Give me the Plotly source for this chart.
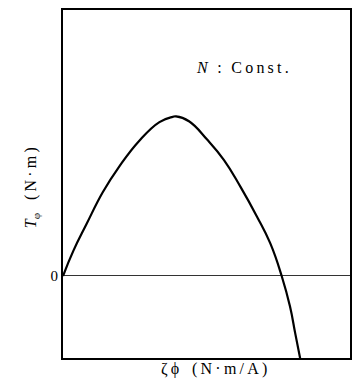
import plotly.graph_objects as go

# Torque vs. flux-constant curve at constant speed
zeta_phi = [0.0, 0.36, 0.82, 1.39, 1.97, 2.66, 3.36, 3.82, 3.94, 4.39, 5.03,
            5.61, 6.18, 6.76, 7.22, 7.62, 7.91, 8.09, 8.27]
torque = [0.0, 0.92, 1.90, 3.07, 4.02, 4.95, 5.63, 5.82, 5.84, 5.66, 4.98,
          4.24, 3.27, 2.17, 1.20, 0.0, -1.12, -2.09, -3.05]

y_tick_vals = [0]
y_tick_text = ["0"]

serif = "Liberation Serif, Times New Roman, serif"
ts = "\u2009"  # thin space used for the letter-spaced labels

fig = go.Figure()
fig.add_trace(go.Scatter(
    x=zeta_phi, y=torque, mode="lines",
    line=dict(color="black", width=2.2, shape="spline", smoothing=1.3),
    hoverinfo="skip", showlegend=False,
))

fig.update_layout(
    width=355, height=385,
    margin=dict(l=63, r=3, t=10, b=27),
    paper_bgcolor="white", plot_bgcolor="white",
    font=dict(family=serif, color="black", size=15),
    xaxis=dict(range=[0, 10], showgrid=False, zeroline=False,
               showticklabels=False, ticks="",
               showline=True, mirror=True, linecolor="black", linewidth=2),
    yaxis=dict(range=[-3, 9.73], showgrid=False,
               zeroline=True, zerolinecolor="#333333", zerolinewidth=1,
               tickvals=y_tick_vals, ticktext=y_tick_text, ticks="",
               tickfont=dict(family=serif, size=15, color="black"),
               showline=True, mirror=True, linecolor="black", linewidth=2),
    annotations=[
        dict(text="<i>N</i>" + ts * 3 + ":" + ts * 3 + ts.join("Const."),
             xref="paper", yref="paper",
             x=0.627, y=0.865, showarrow=False,
             font=dict(family=serif, size=16, color="black")),
        dict(text="<i>T</i><sub>φ</sub>" + ts * 4 + "(" + ts + ts.join("N·m") + ts + ")",
             xref="paper", yref="paper",
             x=-0.149, y=0.49, textangle=-90, showarrow=False,
             font=dict(family=serif, size=16, color="black")),
        dict(text="ζ" + ts + "ϕ" + ts * 4 + "(" + ts + ts.join("N·m/A") + ts + ")",
             xref="paper", yref="paper",
             x=0.526, y=-0.063, showarrow=False,
             font=dict(family=serif, size=16, color="black")),
    ],
)

fig.write_html("out.html")
